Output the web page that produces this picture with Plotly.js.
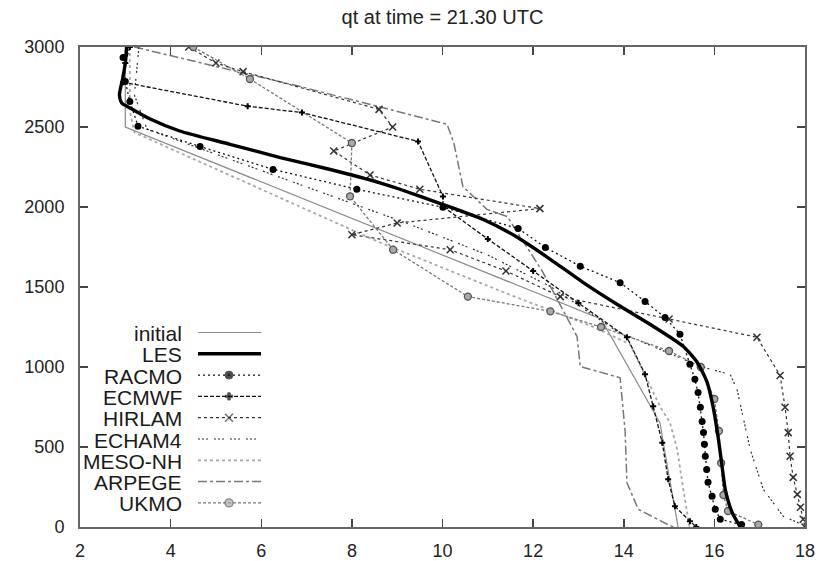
<!DOCTYPE html>
<html>
<head>
<meta charset="utf-8">
<script src="https://cdn.plot.ly/plotly-3.0.1.min.js"></script>
<style>
  html, body { margin: 0; padding: 0; background: #fff; }
  #chart { width: 823px; height: 561px; }
</style>
</head>
<body>
<div id="chart"></div>
<script>
// Total water specific humidity qt (g/kg) against height (m), 21.30 UTC

const initialZ = [3000, 2500, 1300, 700, 650, 350, 50, 0];
const initialQ = [3.0, 3.0, 13.5, 14.7, 14.8, 14.98, 15.17, 15.2];

const lesZ = [3000, 2900, 2800, 2700, 2650, 2620, 2550, 2475, 2392, 2309, 2236, 2153, 2111, 2017, 1922, 1811, 1673, 1529, 1392, 1267, 1130, 1030, 904, 754, 567, 379, 235, 92, 0];
const lesQ = [3.03, 3.0, 2.94, 2.87, 2.92, 3.1, 3.55, 4.2, 5.31, 6.42, 7.5, 8.6, 9.06, 10.0, 10.9, 11.65, 12.38, 13.1, 13.85, 14.58, 15.31, 15.62, 15.84, 15.97, 16.08, 16.17, 16.24, 16.39, 16.57];

const racmoZ = [2935, 2785, 2660, 2505, 2378, 2235, 2111, 1998, 1866, 1747, 1630, 1527, 1410, 1310, 1205, 1017, 923, 840, 748, 660, 590, 517, 442, 360, 279, 192, 111, 48, 15];
const racmoQ = [2.95, 3.0, 3.1, 3.28, 4.65, 6.26, 8.11, 10.01, 11.67, 12.27, 13.04, 13.92, 14.47, 14.91, 15.24, 15.46, 15.57, 15.64, 15.69, 15.73, 15.76, 15.78, 15.8, 15.83, 15.86, 15.95, 16.02, 16.13, 16.6];

const ecmwfZ = [3000, 2900, 2780, 2630, 2590, 2410, 2066, 2003, 1800, 1600, 1400, 1186, 955, 754, 527, 298, 129, 36, 0];
const ecmwfQ = [3.1, 3.0, 2.95, 5.7, 6.9, 9.46, 10.01, 10.01, 11.0, 12.0, 13.0, 14.07, 14.47, 14.65, 14.85, 14.98, 15.13, 15.46, 15.6];

const hirlamZ = [3000, 2900, 2846, 2610, 2500, 2350, 2200, 2111, 1990, 1900, 1827, 1733, 1600, 1440, 1300, 1186, 947, 748, 590, 442, 310, 204, 123, 48, 0];
const hirlamQ = [4.4, 5.0, 5.6, 8.6, 8.9, 7.6, 8.4, 9.5, 12.15, 9.0, 8.0, 10.17, 11.4, 12.6, 15.0, 16.94, 17.45, 17.56, 17.63, 17.67, 17.74, 17.83, 17.9, 17.96, 18.0];

const echamZ = [3000, 2700, 2486, 2111, 1900, 1700, 1500, 1223, 1100, 1004, 953, 860, 486, 235, 67, 29, 0];
const echamQ = [3.3, 3.2, 3.48, 7.14, 9.2, 11.0, 12.4, 13.85, 14.9, 15.69, 16.35, 16.5, 16.79, 17.08, 17.52, 17.83, 18.0];

const mesonhZ = [3000, 2600, 2466, 1778, 1450, 1254, 1142, 754, 652, 486, 279, 67, 0];
const mesonhQ = [3.1, 3.1, 3.2, 8.62, 11.5, 13.3, 14.14, 14.8, 15.02, 15.18, 15.29, 15.4, 15.45];

const arpegeZ = [3000, 2753, 2517, 2400, 2128, 1985, 1940, 1600, 1190, 1003, 933, 600, 277, 111, 17, 0];
const arpegeQ = [3.2, 6.86, 10.1, 10.25, 10.45, 10.98, 11.43, 12.2, 12.97, 13.04, 13.92, 14.03, 14.07, 14.32, 14.96, 15.1];

const ukmoZ = [3000, 2800, 2400, 2067, 1733, 1440, 1348, 1250, 1100, 1000, 800, 600, 400, 200, 100, 15];
const ukmoQ = [4.5, 5.75, 8.0, 7.96, 8.91, 10.56, 12.38, 13.5, 15.0, 15.7, 16.0, 16.1, 16.15, 16.2, 16.3, 16.97];

const seriesNames = ['initial', 'LES', 'RACMO', 'ECMWF', 'HIRLAM', 'ECHAM4', 'MESO-NH', 'ARPEGE', 'UKMO'];
const xTicks = [2, 4, 6, 8, 10, 12, 14, 16, 18];
const yTicks = [0, 500, 1000, 1500, 2000, 2500, 3000];

// line and marker styling per series
const styles = {
  'initial': { line: { color: '#8a8a8a', width: 1.2, dash: 'solid' } },
  'LES':     { line: { color: '#000', width: 3.4, dash: 'solid', shape: 'spline', smoothing: 0.6 } },
  'RACMO':   { line: { color: '#111', width: 1.3, dash: '2px,3px' },
               marker: { symbol: 'circle', size: 7, color: '#000' } },
  'ECMWF':   { line: { color: '#111', width: 1.3, dash: '4px,2px' },
               marker: { symbol: 'cross', size: 5, color: '#000' } },
  'HIRLAM':  { line: { color: '#333', width: 1.2, dash: '3px,3px' },
               marker: { symbol: 'x-thin', size: 7, color: '#333', line: { width: 1.5, color: '#333' } } },
  'ECHAM4':  { line: { color: '#333', width: 1.2, dash: '2px,2px,2px,2px,2px,6px' } },
  'MESO-NH': { line: { color: '#a8a8a8', width: 1.8, dash: 'dot' } },
  'ARPEGE':  { line: { color: '#777', width: 1.5, dash: 'dashdot' } },
  'UKMO':    { line: { color: '#777', width: 1.3, dash: '3px,2px' },
               marker: { symbol: 'circle', size: 7, color: '#aaa', line: { width: 1.3, color: '#555' } } }
};

const profiles = {
  'initial': [initialQ, initialZ],
  'LES':     [lesQ, lesZ],
  'RACMO':   [racmoQ, racmoZ],
  'ECMWF':   [ecmwfQ, ecmwfZ],
  'HIRLAM':  [hirlamQ, hirlamZ],
  'ECHAM4':  [echamQ, echamZ],
  'MESO-NH': [mesonhQ, mesonhZ],
  'ARPEGE':  [arpegeQ, arpegeZ],
  'UKMO':    [ukmoQ, ukmoZ]
};

// draw order: thin model curves first, LES on top
const drawOrder = ['initial', 'MESO-NH', 'ARPEGE', 'ECHAM4', 'HIRLAM', 'UKMO', 'ECMWF', 'RACMO', 'LES'];

function makeTrace(name, xs, ys, extra) {
  const s = styles[name];
  const line = Object.assign({}, s.line);
  const t = {
    type: 'scatter',
    name: name,
    x: xs,
    y: ys,
    mode: s.marker ? 'lines+markers' : 'lines',
    line: line,
    showlegend: false,
    hoverinfo: 'skip'
  };
  if (s.marker) t.marker = Object.assign({}, s.marker);
  return Object.assign(t, extra || {});
}

const traces = drawOrder.map(name => makeTrace(name, profiles[name][0], profiles[name][1]));

// key drawn inside the plot: label on the left, line sample on the right
const W = 823, H = 561;
const M = { l: 80, r: 18, t: 47, b: 34 };
const plotW = W - M.l - M.r, plotH = H - M.t - M.b;
const px = v => (v - M.l) / plotW;
const py = v => (H - M.b - v) / plotH;
const keyLabelRight = 184, keySampleLeft = 198, keySampleMid = 229, keySampleRight = 261;
const keyTop = 332.5, keyStep = 21.3;

const annotations = [];
seriesNames.forEach((name, i) => {
  const rowY = keyTop + i * keyStep;
  annotations.push({
    xref: 'paper', yref: 'paper', x: px(keyLabelRight), y: py(rowY + 1),
    xanchor: 'right', yanchor: 'middle', showarrow: false, text: name,
    font: { family: 'Liberation Sans, Arial, sans-serif', size: 21, color: '#1a1a1a' }
  });
  const sample = makeTrace(name,
    [px(keySampleLeft), px(keySampleMid), px(keySampleRight)],
    [py(rowY), py(rowY), py(rowY)],
    { xaxis: 'x2', yaxis: 'y2' });
  delete sample.line.shape;
  delete sample.line.smoothing;
  if (sample.marker) sample.marker.size = [0, styles[name].marker.size + 1, 0];
  traces.push(sample);
});

const tickFont = { family: 'Liberation Sans, Arial, sans-serif', size: 18, color: '#222' };
const axisCommon = {
  showgrid: false, zeroline: false, showline: true, linecolor: '#666', linewidth: 2,
  mirror: 'ticks', ticks: 'inside', ticklen: 8, tickwidth: 1.5, tickcolor: '#444',
  tickfont: tickFont
};

const layout = {
  width: W, height: H,
  margin: M,
  paper_bgcolor: '#fff', plot_bgcolor: '#fff',
  title: {
    text: 'qt at time = 21.30 UTC',
    font: { family: 'Liberation Sans, Arial, sans-serif', size: 20, color: '#222' },
    x: 0.5, xref: 'paper', xanchor: 'center', y: 1 - 17 / H, yref: 'container', yanchor: 'middle'
  },
  xaxis: Object.assign({}, axisCommon, {
    range: [2, 18], tickvals: xTicks, ticktext: xTicks.map(String), ticklabelstandoff: 6
  }),
  yaxis: Object.assign({}, axisCommon, {
    range: [0, 3000], tickvals: yTicks, ticktext: yTicks.map(String), ticklabelstandoff: 10
  }),
  xaxis2: { overlaying: 'x', anchor: 'y2', range: [0, 1], visible: false, fixedrange: true },
  yaxis2: { overlaying: 'y', anchor: 'x2', range: [0, 1], visible: false, fixedrange: true },
  annotations: annotations,
  showlegend: false
};

Plotly.newPlot('chart', traces, layout, { staticPlot: true, displayModeBar: false });
</script>
</body>
</html>
